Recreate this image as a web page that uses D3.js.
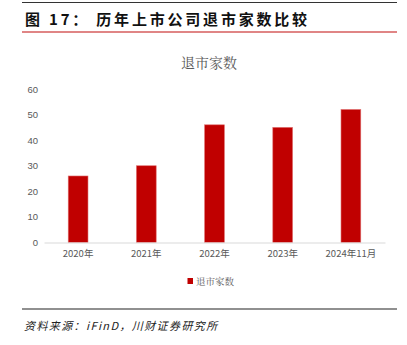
<!DOCTYPE html>
<html><head><meta charset="utf-8">
<script src="https://cdn.jsdelivr.net/npm/d3@7"></script>
<style>
html,body{margin:0;padding:0;background:#fff;}
svg{display:block;}
</style>
</head><body>
<svg id="c" width="407" height="345"></svg>
<script>
const categories = ["2020年","2021年","2022年","2023年","2024年11月"];
const values = [26, 30, 46, 45, 52];
const yTicks = [0,10,20,30,40,50,60];
const seriesName = "退市家数";
const figTitle = "图 17： 历年上市公司退市家数比较";
const chartTitle = "退市家数";
const sourceText = "资料来源：iFinD，川财证券研究所";

const svg = d3.select("#c");

// frame lines
svg.append("line").attr("x1",22).attr("x2",397).attr("y1",2.5).attr("y2",2.5).attr("stroke","#333").attr("stroke-width",1);
svg.append("text").attr("x",25).attr("y",18).attr("dominant-baseline","central")
  .attr("font-family","'Noto Sans CJK SC'").attr("font-weight","bold").attr("font-size",15).attr("fill","#111")
  .attr("letter-spacing",2.8)
  .attr("xml:space","preserve").text(figTitle);
svg.append("line").attr("x1",22).attr("x2",397).attr("y1",32).attr("y2",32).attr("stroke","#e08585").attr("stroke-width",2);

svg.append("text").attr("x",209).attr("y",62).attr("text-anchor","middle").attr("dominant-baseline","central")
  .attr("font-family","'Noto Serif CJK SC','Noto Sans CJK SC'").attr("font-size",14).attr("fill","#595959").text(chartTitle);

const x = d3.scaleBand().domain(categories).range([44,385]).paddingInner(0.71).paddingOuter(0.355);
const y = d3.scaleLinear().domain([0,60]).range([242.5,89]);

// y axis labels
const ya = svg.append("g").attr("transform","translate(38,0)")
  .call(d3.axisLeft(y).tickValues(yTicks).tickSize(0).tickPadding(0));
ya.select(".domain").remove();
ya.selectAll("text").attr("font-family","'Liberation Sans','Noto Sans'").attr("font-size",9.5).attr("fill","#595959");

// bars
svg.append("g").selectAll("rect").data(values).join("rect")
  .attr("x",(d,i)=>x(categories[i])).attr("width",x.bandwidth())
  .attr("y",d=>y(d)).attr("height",d=>y(0)-y(d))
  .attr("fill","#c00000").attr("stroke","#e07070").attr("stroke-width",0.6);

// x axis
const xa = svg.append("g").attr("transform","translate(0,"+y(0)+")")
  .call(d3.axisBottom(x).tickSize(0).tickPadding(8));
xa.select(".domain").attr("stroke","#d9d9d9").attr("stroke-width",1.2);
xa.selectAll("text").attr("font-family","'Noto Sans CJK SC'").attr("font-size",9.5).attr("fill","#595959");

// legend
svg.append("rect").attr("x",187.5).attr("y",278).attr("width",5.5).attr("height",6).attr("fill","#c00000");
svg.append("text").attr("x",196).attr("y",281).attr("dominant-baseline","central")
  .attr("font-family","'Noto Serif CJK SC','Noto Sans CJK SC'").attr("font-size",9.5).attr("fill","#595959").text(seriesName);

// bottom
svg.append("line").attr("x1",22).attr("x2",397).attr("y1",309).attr("y2",309).attr("stroke","#222").attr("stroke-width",1.2);
svg.append("text").attr("x",24).attr("y",325).attr("dominant-baseline","central")
  .attr("font-family","'Noto Sans CJK SC'").attr("font-style","italic").attr("font-size",11).attr("fill","#222")
  .attr("letter-spacing",1.4).text(sourceText);
</script>
</body></html>
